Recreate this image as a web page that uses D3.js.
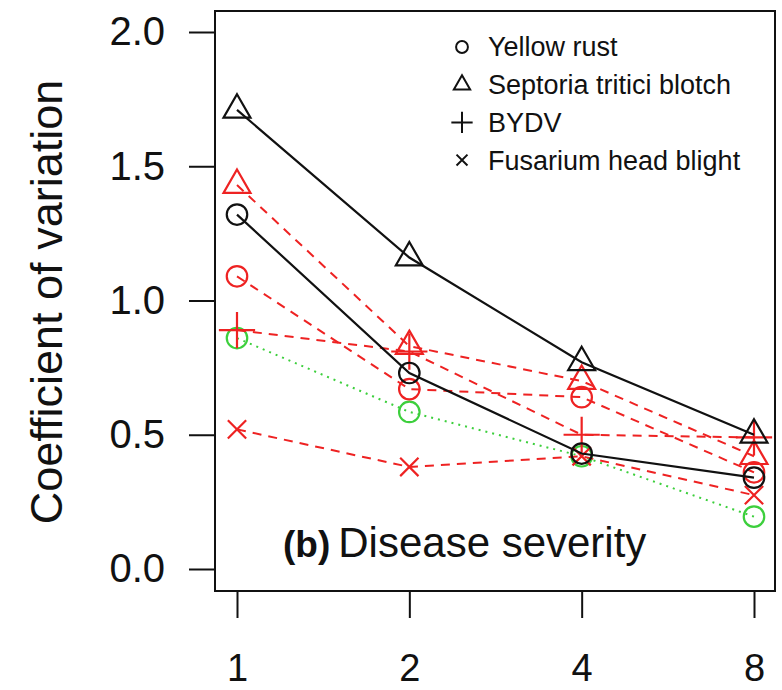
<!DOCTYPE html>
<html>
<head>
<meta charset="utf-8">
<script src="https://cdn.jsdelivr.net/npm/d3@7"></script>
<style>
  body { margin: 0; background: #fff; }
  text { font-family: "Liberation Sans", Arial, sans-serif; }
</style>
</head>
<body>
<svg id="chart" width="782" height="690"></svg>
<script>
// number of replicates (x) and CV per disease / model
const reps = [1, 2, 4, 8];
const yTicks = [0, 0.5, 1.0, 1.5, 2.0];

const yrBlack = [1.32, 0.73, 0.43, 0.34];
const stbBlack = [1.71, 1.16, 0.77, 0.50];
const stbRed = [1.43, 0.83, 0.70, 0.42];
const yrRed = [1.09, 0.67, 0.64, 0.36];
const bydvRed = [0.89, 0.81, 0.50, 0.49];
const fhbRed = [0.52, 0.38, 0.42, 0.275];
const yrGreen = [0.86, 0.585, 0.42, 0.195];

const legendNames = ['Yellow rust', 'Septoria tritici blotch', 'BYDV', 'Fusarium head blight'];

const series = [
  {vals: yrGreen, shape: 'circle', col: '#3ccf3c', dash: '2,5', lw: 2},
  {vals: fhbRed, shape: 'x', col: '#ee2222', dash: '9,7', lw: 2},
  {vals: bydvRed, shape: 'plus', col: '#ee2222', dash: '9,7', lw: 2},
  {vals: yrRed, shape: 'circle', col: '#ee2222', dash: '9,7', lw: 2},
  {vals: stbRed, shape: 'tri', col: '#ee2222', dash: '9,7', lw: 2},
  {vals: yrBlack, shape: 'circle', col: '#111', dash: null, lw: 2.2},
  {vals: stbBlack, shape: 'tri', col: '#111', dash: null, lw: 2.2}
];

const svg = d3.select('#chart');
svg.append('rect').attr('width', 782).attr('height', 690).attr('fill', '#fff');

const x = d3.scaleLog().base(2).domain([1, 8]).range([237, 754]);
const y = d3.scaleLinear().domain([0, 2]).range([569, 32]);

const box = {left: 215, right: 775, top: 11, bottom: 591};

const symType = {circle: d3.symbolCircle, tri: d3.symbolTriangle2, plus: d3.symbolPlus, x: d3.symbolTimes};
const symSize = {circle: 330, tri: 520, plus: 430, x: 220};
const legSize = {circle: 110, tri: 190, plus: 150, x: 80};

// axes
const yAxis = svg.append('g')
  .attr('transform', `translate(${box.left},0)`)
  .call(d3.axisLeft(y).tickValues(yTicks).tickFormat(d3.format('.1f')).tickSize(26).tickSizeOuter(0).tickPadding(24));
const xAxis = svg.append('g')
  .attr('transform', `translate(0,${box.bottom})`)
  .call(d3.axisBottom(x).tickValues(reps).tickFormat(d3.format('d')).tickSize(27).tickSizeOuter(0).tickPadding(36));
[yAxis, xAxis].forEach(a => {
  a.select('.domain').remove();
  a.selectAll('line').attr('stroke', '#111').attr('stroke-width', 2);
  a.selectAll('text').attr('fill', '#111').attr('font-size', 40).attr('font-family', '"Liberation Sans", Arial, sans-serif');
});
xAxis.selectAll('text').attr('font-size', 38);

svg.append('text')
  .attr('transform', 'translate(62,302) rotate(-90)')
  .attr('text-anchor', 'middle')
  .attr('font-size', 45)
  .attr('fill', '#111')
  .text('Coefficient of variation');

// lines and points
const line = d3.line().x((d, i) => x(reps[i])).y(d => y(d));
series.forEach(s => {
  svg.append('path')
    .attr('d', line(s.vals))
    .attr('fill', 'none')
    .attr('stroke', s.col)
    .attr('stroke-width', s.lw)
    .attr('stroke-dasharray', s.dash);
  svg.selectAll(null)
    .data(s.vals)
    .enter().append('path')
    .attr('transform', (d, i) => `translate(${x(reps[i])},${y(d)})`)
    .attr('d', d3.symbol(symType[s.shape], symSize[s.shape]))
    .attr('fill', 'none')
    .attr('stroke', s.col)
    .attr('stroke-width', 2.2);
});

// plot box
svg.append('rect')
  .attr('x', box.left).attr('y', box.top)
  .attr('width', box.right - box.left).attr('height', box.bottom - box.top)
  .attr('fill', 'none').attr('stroke', '#111').attr('stroke-width', 2);

// legend
const legShapes = ['circle', 'tri', 'plus', 'x'];
const leg = svg.append('g').attr('transform', 'translate(462,47)');
legendNames.forEach((n, i) => {
  const g = leg.append('g').attr('transform', `translate(0,${i * 37.7})`);
  g.append('path')
    .attr('d', d3.symbol(symType[legShapes[i]], legSize[legShapes[i]]))
    .attr('fill', 'none').attr('stroke', '#111').attr('stroke-width', 2);
  g.append('text')
    .attr('x', 26).attr('dy', '0.35em')
    .attr('font-size', 27).attr('fill', '#111')
    .text(n);
});

// panel label
const lab = svg.append('text').attr('x', 283).attr('y', 557).attr('fill', '#111');
lab.append('tspan').attr('font-weight', 'bold').attr('font-size', 37).text('(b)');
lab.append('tspan').attr('font-size', 42).attr('dx', 8).text('Disease severity');
</script>
</body>
</html>
